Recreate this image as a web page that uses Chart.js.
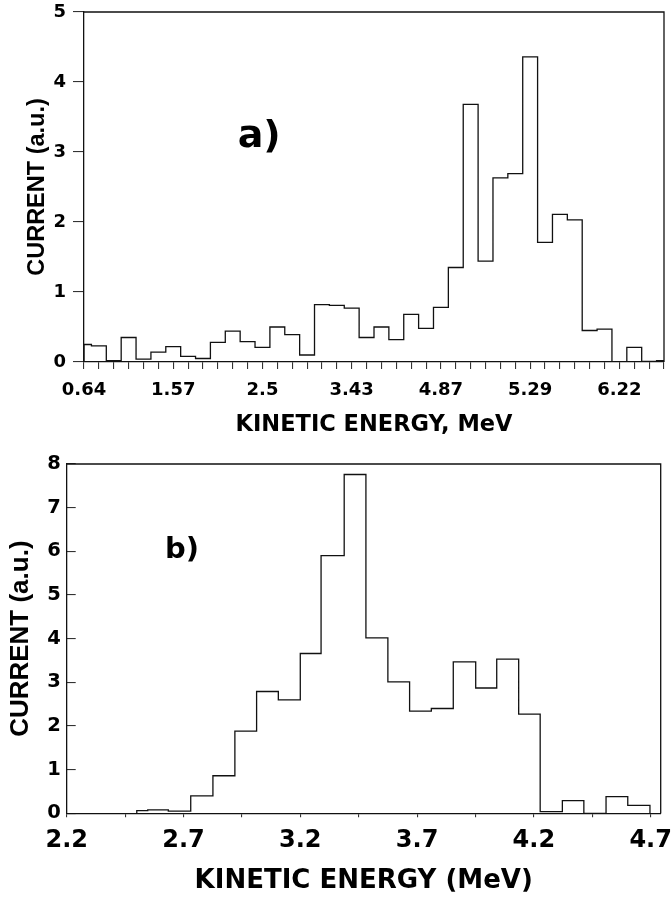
<!DOCTYPE html>
<html><head><meta charset="utf-8">
<script src="https://cdn.jsdelivr.net/npm/chart.js@4/dist/chart.umd.min.js"></script>
<style>
html,body{margin:0;padding:0;background:#fff;}
#wrap{position:relative;width:672px;height:900px;background:#fff;overflow:hidden;}
canvas{position:absolute;left:0;}
#ca{top:0;} #cb{top:440px;}
</style></head><body>
<div id="wrap"><canvas id="ca" width="672" height="440"></canvas><canvas id="cb" width="672" height="460"></canvas></div>
<script>
// ---------- Panel a data ----------
const panelLabelA = 'a)';
const xTitleA = 'KINETIC ENERGY, MeV';
const yTitleA = 'CURRENT (a.u.)';
const firstBinCenterA = 0.64;   // MeV
const binWidthA = 0.155;        // MeV
const currentA = [0.25, 0.23, 0.02, 0.35, 0.04, 0.14, 0.22, 0.08, 0.05, 0.28,
                  0.44, 0.29, 0.21, 0.50, 0.39, 0.10, 0.82, 0.81, 0.77, 0.35,
                  0.50, 0.32, 0.68, 0.48, 0.78, 1.35, 3.68, 1.44, 2.63, 2.69,
                  4.36, 1.71, 2.11, 2.03, 0.45, 0.47, 0.00, 0.21, 0.01, 0.02];
const xTickLabelsA = ['0.64', '1.57', '2.5', '3.43', '4.87', '5.29', '6.22'];
const labelEveryA = 6;
const yMaxA = 5;

// ---------- Panel b data ----------
const panelLabelB = 'b)';
const xTitleB = 'KINETIC ENERGY (MeV)';
const yTitleB = 'CURRENT (a.u.)';
const binEdgesB = [2.500, 2.547, 2.635, 2.731, 2.826, 2.920, 3.013, 3.106, 3.200, 3.289,
                   3.388, 3.481, 3.575, 3.668, 3.761, 3.855, 3.951, 4.041, 4.135, 4.227,
                   4.322, 4.414, 4.509, 4.602, 4.697];
const currentB = [0.06, 0.08, 0.05, 0.40, 0.86, 1.88, 2.79, 2.60, 3.66, 5.90,
                  7.76, 4.02, 3.01, 2.34, 2.40, 3.47, 2.87, 3.53, 2.27, 0.04,
                  0.29, 0.00, 0.38, 0.18];
const xTickLabelsB = ['2.2', '2.7', '3.2', '3.7', '4.2', '4.7'];
const xMinB = 2.2, xMaxB = 4.743, xMinorStepB = 0.25;
const yMaxB = 8;

// ---------- helpers ----------
const INK = '#111';
const HFONT = 'DejaVu Sans';
const VFONT = 'Liberation Sans';

const framePlugin = {
  id: 'frameText',
  afterDraw(chart, args, opts) {
    const {ctx, chartArea: a} = chart;
    ctx.save();
    ctx.strokeStyle = INK; ctx.lineWidth = 1.3;
    ctx.beginPath();
    ctx.moveTo(a.left, a.top); ctx.lineTo(a.right, a.top); ctx.lineTo(a.right, a.bottom);
    ctx.stroke();
    ctx.font = opts.font; ctx.fillStyle = '#000';
    ctx.textAlign = 'center'; ctx.textBaseline = 'alphabetic';
    ctx.fillText(opts.text, a.left + opts.fx * (a.right - a.left), a.top + opts.fy * (a.bottom - a.top));
    ctx.restore();
  }
};
const fixX = h => s => { s.height = h; s.paddingLeft = 0; s.paddingRight = 0; s.paddingTop = 0; s.paddingBottom = 0; };
const fixY = w => s => { s.width = w; s.paddingLeft = 0; s.paddingRight = 0; s.paddingTop = 0; s.paddingBottom = 0; };

// Panel a: bins centred on the tick marks
const tickValuesA = currentA.map((_, k) => firstBinCenterA + k * binWidthA);
const xMinA = tickValuesA[0], xMaxA = tickValuesA[tickValuesA.length - 1];
const pointsA = [{x: xMinA, y: 0}];
currentA.forEach((v, k) => {
  pointsA.push({x: Math.max(xMinA, tickValuesA[k] - binWidthA / 2), y: v});
});
pointsA.push({x: xMaxA, y: currentA[currentA.length - 1]});
pointsA.push({x: xMaxA, y: 0});

new Chart(document.getElementById('ca'), {
  type: 'line',
  data: { datasets: [{ data: pointsA, stepped: 'before', borderColor: INK, borderWidth: 1.3,
                       pointRadius: 0, fill: false, tension: 0 }] },
  plugins: [framePlugin],
  options: {
    responsive: false, animation: false, devicePixelRatio: 1,
    layout: { padding: { top: 12, right: 8, left: 0, bottom: 0 }, autoPadding: false },
    plugins: { legend: { display: false }, tooltip: { enabled: false },
      frameText: { text: panelLabelA, font: 'bold 38px "' + HFONT + '"', fx: 0.302, fy: 0.386 } },
    scales: {
      x: {
        type: 'linear', min: xMinA, max: xMaxA,
        afterBuildTicks: s => { s.ticks = tickValuesA.map(v => ({ value: v })); },
        afterFit: fixX(78),
        ticks: { autoSkip: false, maxRotation: 0, minRotation: 0, padding: 11, color: '#000',
                 font: { family: HFONT, size: 18, weight: 'bold' },
                 callback: (v, i) => (i % labelEveryA === 0 ? xTickLabelsA[i / labelEveryA] : '') },
        grid: { drawOnChartArea: false, tickLength: 7, color: '#333', lineWidth: 1.1 },
        border: { color: INK, width: 1.3 },
        title: { display: true, text: xTitleA, color: '#000', padding: { top: 0, bottom: 1 },
                 font: { family: HFONT, size: 22.5, weight: 'bold' } }
      },
      y: {
        min: 0, max: yMaxA,
        afterFit: fixY(84),
        ticks: { stepSize: 1, padding: 7, color: '#000',
                 font: { family: HFONT, size: 18, weight: 'bold' } },
        grid: { drawOnChartArea: false, tickLength: 11, color: '#333', lineWidth: 1.1 },
        border: { color: INK, width: 1.3 },
        title: { display: true, text: yTitleA, color: '#000', padding: { top: 23, bottom: 0 },
                 font: { family: VFONT, size: 23.5, weight: 'bold' } }
      }
    }
  }
});

// Panel b: explicit bin edges
const pointsB = [{x: binEdgesB[0], y: 0}];
currentB.forEach((v, k) => { pointsB.push({x: binEdgesB[k + 1], y: v}); });
pointsB.push({x: binEdgesB[binEdgesB.length - 1], y: 0});
const tickValuesB = [];
for (let v = xMinB; v <= xMaxB + 1e-9; v += xMinorStepB) tickValuesB.push(+v.toFixed(3));

new Chart(document.getElementById('cb'), {
  type: 'line',
  data: { datasets: [{ data: pointsB, stepped: 'after', borderColor: INK, borderWidth: 1.3,
                       pointRadius: 0, fill: false, tension: 0 }] },
  plugins: [framePlugin],
  options: {
    responsive: false, animation: false, devicePixelRatio: 1,
    layout: { padding: { top: 24, right: 11.3, left: 0, bottom: 0 }, autoPadding: false },
    plugins: { legend: { display: false }, tooltip: { enabled: false },
      frameText: { text: panelLabelB, font: 'bold 29px "' + HFONT + '"', fx: 0.194, fy: 0.269 } },
    scales: {
      x: {
        type: 'linear', min: xMinB, max: xMaxB,
        afterBuildTicks: s => { s.ticks = tickValuesB.map(v => ({ value: v })); },
        afterFit: fixX(86.7),
        ticks: { autoSkip: false, maxRotation: 0, minRotation: 0, padding: 9, color: '#000',
                 font: { family: HFONT, size: 24, weight: 'bold' },
                 callback: (v, i) => (i % 2 === 0 ? xTickLabelsB[i / 2] : '') },
        grid: { drawOnChartArea: false, tickLength: 4, color: '#333', lineWidth: 1.1 },
        border: { color: INK, width: 1.3 },
        title: { display: true, text: xTitleB, color: '#000', padding: { top: 0, bottom: 3 },
                 font: { family: HFONT, size: 26, weight: 'bold' } }
      },
      y: {
        min: 0, max: yMaxB,
        afterFit: fixY(66.7),
        ticks: { stepSize: 0.5, padding: 15, color: '#000',
                 font: { family: HFONT, size: 19.5, weight: 'bold' },
                 callback: v => (Number.isInteger(v) ? String(v) : '') },
        grid: { drawOnChartArea: false, tickLength: -9, color: '#333', lineWidth: 1.1 },
        border: { color: INK, width: 1.3 },
        title: { display: true, text: yTitleB, color: '#000', padding: { top: 5, bottom: 0 },
                 font: { family: VFONT, size: 26, weight: 'bold' } }
      }
    }
  }
});
</script>
</body></html>
